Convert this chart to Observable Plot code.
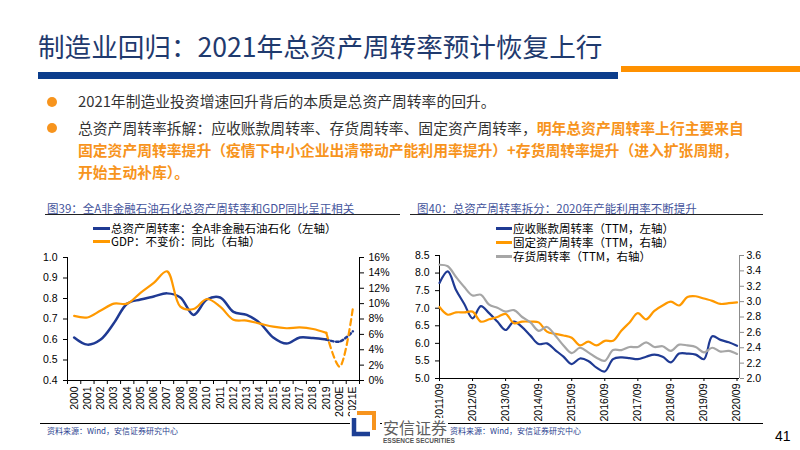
<!DOCTYPE html>
<html><head><meta charset="utf-8">
<script src="https://cdn.jsdelivr.net/npm/d3@7"></script>
<script src="https://cdn.jsdelivr.net/npm/@observablehq/plot@0.6"></script>
<style>
body{margin:0;width:800px;height:450px;background:#fff;position:relative;overflow:hidden;font-family:"Noto Sans CJK SC","Noto Sans",sans-serif;}
.abs{position:absolute;white-space:nowrap;}
.title{left:38px;top:28px;font-size:26.6px;color:#1f3a6e;line-height:36px;}
.bullet{font-size:14.8px;line-height:22px;color:#333;left:78px;}
.dot{width:10px;height:10px;border-radius:50%;background:#f7941d;}
.hl{color:#f7941d;font-weight:bold;}
.ctitle{font-size:11.5px;color:#44549c;line-height:14px;}
.leg{font-size:11.5px;color:#000;line-height:13px;}
.sw{height:2.5px;}
.src{font-size:8px;color:#2b3f8f;line-height:10px;}
</style></head><body>
<script>
// ---- Left chart data (图39) ----
const years = ["2000","2001","2002","2003","2004","2005","2006","2007","2008","2009","2010","2011","2012","2013","2014","2015","2016","2017","2018","2019","2020E","2021E"];
const assetTurnover = [0.61,0.575,0.60,0.68,0.775,0.795,0.81,0.825,0.805,0.72,0.795,0.805,0.735,0.72,0.68,0.61,0.58,0.61,0.607,0.60,0.59,0.64];
const gdpYoY = [8.4,8.2,9.1,10.0,10.0,11.4,12.7,14.2,9.6,9.3,10.6,9.6,7.9,7.8,7.4,7.0,6.8,6.9,6.7,6.2,1.8,9.4];
const leftTicksL = [0.4,0.5,0.6,0.7,0.8,0.9,1.0];
const leftTicksR = [0,2,4,6,8,10,12,14,16];

// ---- Right chart data (图40), quarterly 2011/09 .. 2020/09 ----
const quarterTicks = ["2011/09","2012/09","2013/09","2014/09","2015/09","2016/09","2017/09","2018/09","2019/09","2020/09"];
const receivables = [7.72,8.05,7.52,7.12,6.71,7.06,6.86,6.62,6.38,6.62,6.46,6.22,5.98,6.0,5.81,5.62,5.41,5.57,5.5,5.31,5.2,5.55,5.6,5.58,5.55,5.62,5.68,5.62,5.46,5.71,5.71,5.68,5.55,6.2,6.1,6.03,5.93];
const fixedAssets = [2.93,2.83,2.86,2.86,2.87,2.74,2.77,2.80,2.84,2.72,2.74,2.74,2.73,2.61,2.58,2.56,2.53,2.43,2.48,2.43,2.49,2.49,2.62,2.73,2.85,2.77,2.88,2.95,3.00,2.95,3.06,3.07,3.04,3.01,2.97,2.98,2.99];
const inventory = [3.48,3.46,3.32,3.19,3.08,3.09,2.96,2.92,2.87,2.89,2.80,2.73,2.62,2.67,2.56,2.43,2.33,2.40,2.34,2.27,2.23,2.37,2.37,2.41,2.41,2.47,2.41,2.42,2.36,2.44,2.43,2.41,2.34,2.40,2.35,2.36,2.32];
const rightTicksL = [5.0,5.5,6.0,6.5,7.0,7.5,8.0,8.5];
const rightTicksR = [2.0,2.2,2.4,2.6,2.8,3.0,3.2,3.4,3.6];

const BLUE = "#1f3a93", ORANGE = "#ff9900", GRAY = "#a6a6a6";

function add(html){ document.body.insertAdjacentHTML("beforeend", html); }

// slide header
add(`<div class="abs title">制造业回归：2021年总资产周转率预计恢复上行</div>`);
add(`<div class="abs" style="left:38px;top:72px;width:580px;height:7px;background:#0b3d8c"></div>`);
add(`<div class="abs" style="left:621px;top:66px;width:179px;height:6px;background:#ff9100"></div>`);
add(`<div class="abs dot" style="left:47px;top:97px"></div>`);
add(`<div class="abs dot" style="left:47px;top:123px"></div>`);
add(`<div class="abs bullet" style="top:90px">2021年制造业投资增速回升背后的本质是总资产周转率的回升。</div>`);
add(`<div class="abs bullet" style="top:117px">总资产周转率拆解：应收账款周转率、存货周转率、固定资产周转率，<span class="hl">明年总资产周转率上行主要来自</span><br><span class="hl">固定资产周转率提升（疫情下中小企业出清带动产能利用率提升）+存货周转率提升（进入扩张周期，</span><br><span class="hl">开始主动补库）。</span></div>`);

// chart titles
add(`<div class="abs ctitle" style="left:47px;top:201px">图39：全A非金融石油石化总资产周转率和GDP同比呈正相关</div>`);
add(`<div class="abs" style="left:45px;top:214px;width:355px;height:1px;background:#222"></div>`);
add(`<div class="abs ctitle" style="left:417px;top:201px">图40：总资产周转率拆分：2020年产能利用率不断提升</div>`);
add(`<div class="abs" style="left:410px;top:214px;width:353px;height:1px;background:#222"></div>`);

// ---------- Left chart ----------
const g2y = v => 0.4 + v / 16 * 0.6;
const y2g = v => (v - 0.4) / 0.6 * 16;
const idx = d3.range(years.length);
const leftData = idx.map(i => ({i, t: assetTurnover[i], g: gdpYoY[i]}));
const cut = years.indexOf("2019");
const axisStyle = {fontFamily: "'Liberation Sans', Arial, sans-serif", fontSize: "10.5px", color: "#000", background: "transparent", overflow: "visible"};

const left = Plot.plot({
  width: 400, height: 175, marginLeft: 67, marginRight: 41, marginTop: 7, marginBottom: 45,
  x: {domain: [-0.5, years.length - 0.5], axis: null},
  y: {domain: [0.4, 1.0], axis: null},
  style: axisStyle,
  marks: [
    Plot.axisY(leftTicksL, {anchor: "left", label: null, tickSize: 4, tickPadding: 6, tickFormat: d3.format(".1f")}),
    Plot.axisY(leftTicksR.map(g2y), {anchor: "right", label: null, tickSize: 4, tickPadding: 5, tickFormat: v => Math.round(y2g(v)) + "%"}),
    Plot.axisX(d3.range(years.length + 1).map(i => i - 0.5), {label: null, tickSize: 4, tickFormat: () => ""}),
    Plot.axisX(idx, {label: null, tickSize: 0, tickPadding: 6, tickRotate: -90, tickFormat: i => years[i]}),
    Plot.ruleX([-0.5, years.length - 0.5], {stroke: "#000"}),
    Plot.ruleY([0.4], {stroke: "#000"}),
    Plot.line(leftData.slice(0, cut + 1), {x: "i", y: "t", stroke: BLUE, strokeWidth: 2.5, curve: "catmull-rom"}),
    Plot.line(leftData.slice(cut), {x: "i", y: "t", stroke: BLUE, strokeWidth: 2.5, strokeDasharray: "2.5,2.5", curve: "catmull-rom"}),
    Plot.line(leftData.slice(0, cut + 1), {x: "i", y: d => g2y(d.g), stroke: ORANGE, strokeWidth: 2.2, curve: "catmull-rom"}),
    Plot.line(leftData.slice(cut), {x: "i", y: d => g2y(d.g), stroke: ORANGE, strokeWidth: 2.2, strokeDasharray: "6,4", curve: "catmull-rom"})
  ]
});
left.style.position = "absolute"; left.style.left = "0px"; left.style.top = "250px";
document.body.appendChild(left);

// ---------- Right chart ----------
const r2l = v => 5 + (v - 2) / 1.6 * 3.5;
const l2r = v => 2 + (v - 5) / 3.5 * 1.6;
const q = d3.range(receivables.length);
const rightData = q.map(i => ({i, a: receivables[i], f: fixedAssets[i], s: inventory[i]}));
const right = Plot.plot({
  width: 400, height: 175, marginLeft: 39, marginRight: 61, marginTop: 5, marginBottom: 47,
  x: {domain: [0, 36.3], axis: null},
  y: {domain: [5, 8.5], axis: null},
  style: axisStyle,
  marks: [
    Plot.axisY(rightTicksL, {anchor: "left", label: null, tickSize: 4, tickPadding: 6, tickFormat: d3.format(".1f")}),
    Plot.axisY(rightTicksR.map(r2l), {anchor: "right", label: null, tickSize: 4, tickPadding: 3, stroke: "#8c8c8c", fill: "#000", tickFormat: v => l2r(v).toFixed(1)}),
    Plot.axisX(quarterTicks.map((d, k) => k * 4), {label: null, tickSize: 3, tickPadding: 2, tickRotate: -90, tickFormat: i => quarterTicks[i / 4]}),
    Plot.ruleX([0], {stroke: "#000"}),
    Plot.ruleX([36.3], {stroke: "#8c8c8c"}),
    Plot.ruleY([5], {stroke: "#000"}),
    Plot.line(rightData, {x: "i", y: "a", stroke: BLUE, strokeWidth: 2.2, curve: "catmull-rom"}),
    Plot.line(rightData, {x: "i", y: d => r2l(d.f), stroke: ORANGE, strokeWidth: 2.2, curve: "catmull-rom"}),
    Plot.line(rightData, {x: "i", y: d => r2l(d.s), stroke: GRAY, strokeWidth: 2.2, curve: "catmull-rom"})
  ]
});
right.style.position = "absolute"; right.style.left = "400px"; right.style.top = "250px";
document.body.appendChild(right);

// legends
add(`<div class="abs sw" style="left:93px;top:227px;width:17px;background:${BLUE}"></div>`);
add(`<div class="abs leg" style="left:111px;top:221.5px">总资产周转率：全A非金融石油石化（左轴）</div>`);
add(`<div class="abs sw" style="left:93px;top:240px;width:17px;background:${ORANGE}"></div>`);
add(`<div class="abs leg" style="left:111px;top:234.5px">GDP：不变价：同比（右轴）</div>`);
add(`<div class="abs sw" style="left:496px;top:227px;width:16px;background:${BLUE}"></div>`);
add(`<div class="abs leg" style="left:513px;top:221.5px">应收账款周转率（TTM，左轴）</div>`);
add(`<div class="abs sw" style="left:496px;top:241px;width:16px;background:${ORANGE}"></div>`);
add(`<div class="abs leg" style="left:513px;top:235.5px">固定资产周转率（TTM，右轴）</div>`);
add(`<div class="abs sw" style="left:496px;top:255px;width:16px;background:${GRAY}"></div>`);
add(`<div class="abs leg" style="left:513px;top:249.5px">存货周转率（TTM，右轴）</div>`);

// footer
add(`<div class="abs" style="left:40px;top:423px;width:723px;height:1px;background:#000"></div>`);
add(`<div class="abs src" style="left:47px;top:426px">资料来源：Wind，安信证券研究中心</div>`);
add(`<div class="abs src" style="left:450px;top:426px">资料来源：Wind，安信证券研究中心</div>`);
add(`<svg class="abs" style="left:350px;top:410px" width="30" height="28" viewBox="0 0 30 28">
<rect x="0" y="0" width="30" height="28" fill="#fff"/>
<path d="M7 3 H24 V20" fill="none" stroke="#f7941d" stroke-width="4"/>
<path d="M4 8 V24 H20" fill="none" stroke="#1d3f94" stroke-width="4.5"/>
</svg>`);
add(`<div class="abs" style="left:382px;top:418px;font-size:16px;line-height:18px;color:#5f5f5f;background:#fff;padding:0 1px">安信证券</div>`);
add(`<div class="abs" style="left:383px;top:437px;font-size:6.5px;line-height:8px;color:#555;font-weight:bold;font-family:'Liberation Sans',Arial,sans-serif">ESSENCE SECURITIES</div>`);
add(`<div class="abs" style="left:775px;top:428px;font-size:14px;line-height:16px;color:#000;font-family:'Liberation Sans',Arial,sans-serif">41</div>`);
</script>
</body></html>
